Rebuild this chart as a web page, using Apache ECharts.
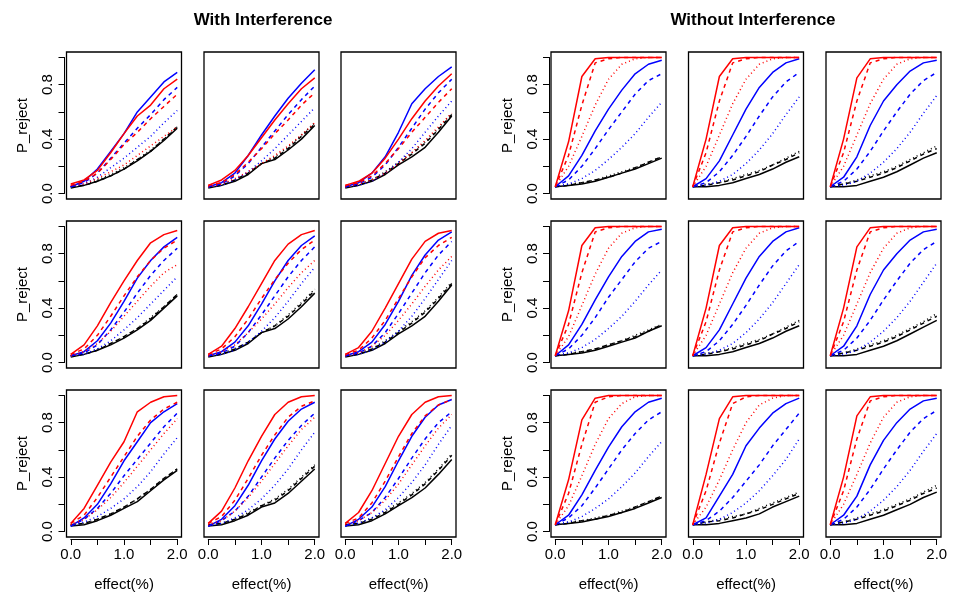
<!DOCTYPE html>
<html><head><meta charset="utf-8">
<script src="https://cdn.jsdelivr.net/npm/echarts@6/dist/echarts.min.js"></script>
<style>html,body{margin:0;padding:0;background:#fff}#c{width:969px;height:603px}</style>
</head><body><div id="c"></div>
<script>
// x values (effect %)
const effect = [0, 0.25, 0.5, 0.75, 1.0, 1.25, 1.5, 1.75, 2.0];
const xTickValues = [0, 0.5, 1.0, 1.5, 2.0];
const xTickLabels = ['0.0', '1.0', '2.0'];
const yTickValues = [0, 0.2, 0.4, 0.6, 0.8, 1.0];
const yTickLabels = ['0.0', '0.4', '0.8'];
const groupTitles = ['With Interference', 'Without Interference'];
// order of series in each panel: red solid, red dashed, red dotted, blue solid, blue dashed, blue dotted, black solid, black dashed, black dotted
const seriesKeys = ['rs','rd','rt','bs','bd','bt','ks','kd','kt'];

// ---- With Interference ----
const with_r1c1 = [
  [0.07,0.10,0.17,0.30,0.44,0.57,0.65,0.77,0.84],
  [0.06,0.09,0.15,0.25,0.36,0.45,0.55,0.64,0.73],
  [0.06,0.07,0.11,0.16,0.21,0.28,0.35,0.42,0.49],
  [0.05,0.09,0.18,0.31,0.44,0.60,0.71,0.82,0.89],
  [0.05,0.08,0.15,0.26,0.37,0.48,0.58,0.69,0.78],
  [0.05,0.07,0.12,0.19,0.26,0.34,0.42,0.52,0.61],
  [0.04,0.06,0.09,0.13,0.18,0.24,0.31,0.39,0.48],
  [0.05,0.06,0.09,0.13,0.18,0.25,0.31,0.40,0.49],
  [0.05,0.06,0.10,0.14,0.19,0.25,0.32,0.40,0.49]];
const with_r1c2 = [
  [0.06,0.10,0.17,0.28,0.41,0.54,0.66,0.77,0.85],
  [0.06,0.08,0.14,0.23,0.33,0.44,0.54,0.65,0.74],
  [0.05,0.07,0.11,0.16,0.22,0.28,0.35,0.43,0.52],
  [0.05,0.08,0.15,0.28,0.43,0.57,0.70,0.81,0.91],
  [0.05,0.07,0.13,0.22,0.34,0.46,0.58,0.69,0.79],
  [0.05,0.06,0.10,0.16,0.24,0.33,0.43,0.53,0.63],
  [0.04,0.06,0.09,0.14,0.22,0.25,0.32,0.40,0.50],
  [0.05,0.06,0.10,0.15,0.22,0.26,0.33,0.42,0.51],
  [0.05,0.07,0.10,0.15,0.22,0.27,0.34,0.43,0.52]];
const with_r1c3 = [
  [0.06,0.09,0.15,0.26,0.40,0.55,0.68,0.79,0.88],
  [0.06,0.08,0.13,0.22,0.33,0.45,0.56,0.67,0.77],
  [0.05,0.07,0.10,0.15,0.22,0.30,0.39,0.49,0.59],
  [0.05,0.08,0.15,0.27,0.45,0.66,0.77,0.86,0.93],
  [0.05,0.07,0.12,0.21,0.34,0.48,0.62,0.74,0.84],
  [0.05,0.06,0.09,0.15,0.23,0.33,0.45,0.57,0.68],
  [0.04,0.06,0.09,0.14,0.21,0.27,0.34,0.45,0.57],
  [0.05,0.06,0.10,0.15,0.22,0.29,0.37,0.47,0.58],
  [0.05,0.07,0.10,0.16,0.23,0.30,0.38,0.48,0.59]];
const with_r2c1 = [
  [0.06,0.13,0.27,0.44,0.60,0.75,0.88,0.94,0.97],
  [0.06,0.10,0.20,0.34,0.49,0.63,0.75,0.84,0.90],
  [0.05,0.08,0.14,0.23,0.34,0.45,0.56,0.66,0.72],
  [0.05,0.08,0.16,0.29,0.45,0.62,0.75,0.85,0.92],
  [0.05,0.07,0.13,0.24,0.37,0.51,0.64,0.75,0.84],
  [0.05,0.06,0.10,0.16,0.24,0.33,0.43,0.53,0.63],
  [0.04,0.06,0.09,0.13,0.18,0.24,0.31,0.40,0.49],
  [0.05,0.06,0.09,0.14,0.19,0.25,0.32,0.41,0.50],
  [0.05,0.06,0.10,0.14,0.19,0.25,0.33,0.41,0.50]];
const with_r2c2 = [
  [0.06,0.12,0.25,0.41,0.58,0.75,0.87,0.94,0.97],
  [0.06,0.10,0.19,0.32,0.47,0.61,0.73,0.83,0.90],
  [0.05,0.08,0.13,0.22,0.32,0.43,0.55,0.66,0.75],
  [0.05,0.08,0.15,0.27,0.43,0.60,0.75,0.86,0.93],
  [0.05,0.07,0.12,0.22,0.35,0.49,0.63,0.75,0.85],
  [0.05,0.06,0.09,0.15,0.23,0.33,0.45,0.58,0.70],
  [0.04,0.06,0.09,0.14,0.22,0.25,0.32,0.41,0.51],
  [0.05,0.06,0.10,0.15,0.22,0.27,0.34,0.43,0.53],
  [0.05,0.07,0.10,0.15,0.22,0.27,0.35,0.44,0.54]];
const with_r2c3 = [
  [0.06,0.11,0.23,0.40,0.58,0.76,0.89,0.95,0.97],
  [0.06,0.09,0.18,0.31,0.47,0.63,0.77,0.86,0.92],
  [0.05,0.07,0.12,0.20,0.31,0.43,0.56,0.68,0.78],
  [0.05,0.08,0.15,0.28,0.45,0.64,0.79,0.90,0.96],
  [0.05,0.07,0.12,0.22,0.36,0.51,0.66,0.79,0.89],
  [0.05,0.06,0.09,0.15,0.23,0.34,0.47,0.61,0.75],
  [0.04,0.06,0.09,0.14,0.21,0.27,0.34,0.45,0.57],
  [0.05,0.06,0.10,0.15,0.22,0.29,0.37,0.47,0.58],
  [0.05,0.07,0.10,0.16,0.23,0.30,0.38,0.48,0.59]];
const with_r3c1 = [
  [0.06,0.17,0.34,0.51,0.66,0.88,0.95,0.99,1.00],
  [0.06,0.12,0.25,0.40,0.55,0.70,0.82,0.90,0.95],
  [0.05,0.09,0.16,0.25,0.36,0.48,0.60,0.72,0.83],
  [0.04,0.10,0.20,0.35,0.52,0.66,0.80,0.88,0.94],
  [0.04,0.09,0.17,0.28,0.41,0.53,0.65,0.77,0.87],
  [0.04,0.07,0.11,0.17,0.24,0.33,0.44,0.57,0.69],
  [0.04,0.05,0.08,0.12,0.17,0.22,0.30,0.38,0.45],
  [0.05,0.06,0.09,0.13,0.18,0.24,0.31,0.39,0.46],
  [0.05,0.06,0.09,0.13,0.18,0.24,0.31,0.39,0.46]];
const with_r3c2 = [
  [0.06,0.15,0.32,0.52,0.70,0.86,0.95,0.99,1.00],
  [0.06,0.11,0.23,0.39,0.56,0.71,0.84,0.92,0.96],
  [0.05,0.08,0.15,0.25,0.37,0.50,0.63,0.75,0.84],
  [0.04,0.09,0.19,0.34,0.52,0.68,0.81,0.90,0.95],
  [0.04,0.08,0.15,0.26,0.40,0.54,0.67,0.78,0.87],
  [0.04,0.06,0.10,0.16,0.24,0.34,0.46,0.60,0.73],
  [0.04,0.05,0.08,0.12,0.18,0.21,0.28,0.37,0.46],
  [0.05,0.06,0.09,0.13,0.19,0.23,0.30,0.39,0.48],
  [0.05,0.06,0.09,0.14,0.19,0.24,0.31,0.40,0.49]];
const with_r3c3 = [
  [0.06,0.14,0.30,0.50,0.70,0.86,0.95,0.99,1.00],
  [0.06,0.10,0.21,0.37,0.55,0.72,0.85,0.93,0.97],
  [0.05,0.08,0.14,0.23,0.35,0.49,0.63,0.76,0.86],
  [0.04,0.09,0.18,0.33,0.52,0.70,0.84,0.93,0.97],
  [0.04,0.08,0.14,0.25,0.39,0.54,0.68,0.80,0.88],
  [0.04,0.06,0.10,0.16,0.25,0.36,0.49,0.64,0.78],
  [0.04,0.05,0.08,0.13,0.19,0.25,0.32,0.42,0.53],
  [0.05,0.06,0.09,0.14,0.20,0.27,0.35,0.45,0.56],
  [0.05,0.06,0.10,0.15,0.21,0.28,0.36,0.46,0.57]];

// ---- Without Interference ----
const without_r1c1 = [
  [0.05,0.38,0.86,0.99,1.00,1.00,1.00,1.00,1.00],
  [0.05,0.28,0.65,0.96,0.99,1.00,1.00,1.00,1.00],
  [0.05,0.20,0.42,0.65,0.84,0.95,0.99,1.00,1.00],
  [0.05,0.13,0.28,0.46,0.62,0.76,0.88,0.95,0.98],
  [0.05,0.10,0.20,0.33,0.47,0.60,0.73,0.83,0.88],
  [0.05,0.07,0.11,0.17,0.25,0.34,0.44,0.56,0.67],
  [0.05,0.06,0.07,0.09,0.12,0.15,0.18,0.22,0.26],
  [0.05,0.06,0.08,0.10,0.12,0.15,0.19,0.23,0.27],
  [0.05,0.07,0.08,0.10,0.13,0.16,0.19,0.23,0.27]];
const without_r1c2 = [
  [0.05,0.40,0.86,0.99,1.00,1.00,1.00,1.00,1.00],
  [0.05,0.30,0.68,0.96,0.99,1.00,1.00,1.00,1.00],
  [0.05,0.20,0.43,0.66,0.84,0.95,0.99,1.00,1.00],
  [0.05,0.11,0.24,0.43,0.62,0.78,0.89,0.96,0.99],
  [0.05,0.08,0.16,0.28,0.42,0.57,0.71,0.82,0.89],
  [0.05,0.06,0.09,0.14,0.22,0.32,0.44,0.58,0.71],
  [0.05,0.05,0.06,0.08,0.11,0.14,0.18,0.23,0.27],
  [0.05,0.06,0.08,0.10,0.13,0.16,0.21,0.25,0.30],
  [0.05,0.07,0.08,0.11,0.14,0.17,0.21,0.26,0.31]];
const without_r1c3 = [
  [0.05,0.40,0.85,0.99,1.00,1.00,1.00,1.00,1.00],
  [0.05,0.30,0.68,0.96,0.99,1.00,1.00,1.00,1.00],
  [0.05,0.20,0.43,0.66,0.84,0.95,0.99,1.00,1.00],
  [0.05,0.12,0.27,0.50,0.68,0.80,0.90,0.96,0.98],
  [0.05,0.09,0.18,0.31,0.46,0.60,0.73,0.83,0.89],
  [0.05,0.06,0.09,0.15,0.23,0.33,0.45,0.59,0.72],
  [0.05,0.05,0.06,0.09,0.12,0.16,0.21,0.26,0.30],
  [0.05,0.07,0.09,0.12,0.15,0.19,0.24,0.29,0.33],
  [0.05,0.07,0.10,0.13,0.16,0.20,0.25,0.30,0.35]];
const without_r2c1 = [
  [0.05,0.38,0.86,0.99,1.00,1.00,1.00,1.00,1.00],
  [0.05,0.28,0.66,0.96,0.99,1.00,1.00,1.00,1.00],
  [0.05,0.19,0.42,0.65,0.84,0.95,0.99,1.00,1.00],
  [0.05,0.13,0.28,0.46,0.63,0.78,0.89,0.96,0.98],
  [0.05,0.10,0.20,0.33,0.48,0.61,0.74,0.84,0.89],
  [0.05,0.07,0.11,0.17,0.25,0.34,0.45,0.57,0.68],
  [0.05,0.06,0.07,0.09,0.12,0.15,0.18,0.23,0.27],
  [0.05,0.06,0.08,0.10,0.13,0.16,0.19,0.23,0.28],
  [0.05,0.07,0.08,0.10,0.13,0.16,0.20,0.24,0.28]];
const without_r2c2 = [
  [0.05,0.40,0.86,0.99,1.00,1.00,1.00,1.00,1.00],
  [0.05,0.30,0.68,0.96,0.99,1.00,1.00,1.00,1.00],
  [0.05,0.20,0.43,0.66,0.84,0.95,0.99,1.00,1.00],
  [0.05,0.11,0.24,0.43,0.62,0.78,0.89,0.96,0.99],
  [0.05,0.08,0.16,0.28,0.42,0.57,0.71,0.82,0.89],
  [0.05,0.06,0.09,0.14,0.22,0.32,0.44,0.58,0.72],
  [0.05,0.05,0.06,0.08,0.11,0.14,0.18,0.23,0.27],
  [0.05,0.06,0.08,0.10,0.13,0.16,0.21,0.25,0.30],
  [0.05,0.07,0.08,0.11,0.14,0.17,0.21,0.26,0.31]];
const without_r2c3 = [
  [0.05,0.40,0.85,0.99,1.00,1.00,1.00,1.00,1.00],
  [0.05,0.30,0.68,0.96,0.99,1.00,1.00,1.00,1.00],
  [0.05,0.20,0.43,0.66,0.84,0.95,0.99,1.00,1.00],
  [0.05,0.12,0.27,0.50,0.68,0.80,0.90,0.96,0.98],
  [0.05,0.09,0.18,0.31,0.46,0.60,0.73,0.83,0.89],
  [0.05,0.06,0.09,0.15,0.23,0.33,0.45,0.59,0.73],
  [0.05,0.05,0.06,0.09,0.12,0.16,0.21,0.26,0.31],
  [0.05,0.07,0.09,0.12,0.15,0.19,0.24,0.29,0.34],
  [0.05,0.07,0.10,0.13,0.16,0.20,0.25,0.30,0.36]];
const without_r3c1 = [
  [0.05,0.38,0.82,0.98,1.00,1.00,1.00,1.00,1.00],
  [0.05,0.28,0.64,0.95,0.99,1.00,1.00,1.00,1.00],
  [0.05,0.19,0.41,0.64,0.83,0.94,0.99,1.00,1.00],
  [0.05,0.12,0.27,0.45,0.62,0.77,0.88,0.95,0.98],
  [0.05,0.10,0.19,0.32,0.46,0.60,0.72,0.82,0.88],
  [0.05,0.07,0.11,0.17,0.24,0.33,0.43,0.55,0.66],
  [0.05,0.06,0.07,0.09,0.11,0.14,0.17,0.21,0.25],
  [0.05,0.06,0.08,0.09,0.12,0.14,0.18,0.22,0.26],
  [0.05,0.07,0.08,0.10,0.12,0.15,0.18,0.22,0.26]];
const without_r3c2 = [
  [0.05,0.42,0.83,0.99,1.00,1.00,1.00,1.00,1.00],
  [0.05,0.30,0.65,0.94,0.99,1.00,1.00,1.00,1.00],
  [0.05,0.18,0.38,0.60,0.80,0.93,0.98,1.00,1.00],
  [0.05,0.10,0.26,0.42,0.63,0.76,0.87,0.94,0.98],
  [0.05,0.08,0.15,0.25,0.37,0.49,0.63,0.75,0.87],
  [0.05,0.06,0.09,0.14,0.21,0.30,0.41,0.53,0.68],
  [0.05,0.05,0.06,0.08,0.10,0.13,0.18,0.22,0.26],
  [0.05,0.07,0.08,0.10,0.13,0.16,0.20,0.24,0.28],
  [0.05,0.07,0.09,0.11,0.13,0.17,0.21,0.25,0.29]];
const without_r3c3 = [
  [0.05,0.40,0.85,0.99,1.00,1.00,1.00,1.00,1.00],
  [0.05,0.30,0.68,0.96,0.99,1.00,1.00,1.00,1.00],
  [0.05,0.20,0.42,0.65,0.84,0.95,0.99,1.00,1.00],
  [0.05,0.12,0.26,0.49,0.67,0.80,0.90,0.96,0.98],
  [0.05,0.09,0.18,0.31,0.46,0.60,0.73,0.83,0.89],
  [0.05,0.06,0.09,0.15,0.23,0.33,0.45,0.59,0.72],
  [0.05,0.05,0.06,0.09,0.12,0.16,0.20,0.25,0.29],
  [0.05,0.07,0.09,0.12,0.15,0.19,0.23,0.28,0.32],
  [0.05,0.07,0.10,0.13,0.16,0.20,0.24,0.29,0.34]];

const panelRows = [
  [with_r1c1, with_r1c2, with_r1c3, without_r1c1, without_r1c2, without_r1c3],
  [with_r2c1, with_r2c2, with_r2c3, without_r2c1, without_r2c2, without_r2c3],
  [with_r3c1, with_r3c2, with_r3c3, without_r3c1, without_r3c2, without_r3c3]];

// ---- layout / style (not data) ----
const FONT = 'Liberation Sans, Arial, Helvetica, sans-serif';
const colTops = [52, 221, 390];
const colLefts = [66.5, 204, 341, 551, 688.5, 826];
const boxW = 115, boxH = 147;
const padX = boxW * 0.08 / 2.16, padY = boxH * 0.04 / 1.08;
const styles = [
  {c:'#ff0000', t:'solid'}, {c:'#ff0000', t:[4,4]}, {c:'#ff0000', t:[1,3]},
  {c:'#0000ff', t:'solid'}, {c:'#0000ff', t:[4,4]}, {c:'#0000ff', t:[1,3]},
  {c:'#000000', t:'solid'}, {c:'#000000', t:[4,4]}, {c:'#000000', t:[1,3]}];

const grid = [], xAxis = [], yAxis = [], series = [];
panelRows.forEach((row, r) => {
  row.forEach((panel, c) => {
    const L = colLefts[c], T = colTops[r];
    const bi = grid.length;
    grid.push({left: L, top: T, width: boxW, height: boxH, show: true, borderColor: '#000', borderWidth: 1.3, backgroundColor: 'transparent'});
    xAxis.push({gridIndex: bi, type: 'value', min: 0, max: 1, show: false});
    yAxis.push({gridIndex: bi, type: 'value', min: 0, max: 1, show: false});
    const ii = grid.length;
    grid.push({left: L + padX, top: T + padY, width: boxW - 2*padX, height: boxH - 2*padY});
    const showX = r === 2, showY = (c === 0 || c === 3);
    xAxis.push({gridIndex: ii, type: 'value', min: 0, max: 2, show: showX, position: 'bottom', offset: padY + 2,
      axisLine: {show: true, onZero: false, lineStyle: {color: '#000', width: 1}},
      axisTick: {show: true, length: 6, customValues: xTickValues, lineStyle: {color: '#000', width: 1}},
      axisLabel: {show: true, customValues: xTickLabels.map(Number), formatter: v => v.toFixed(1), margin: 8, color: '#000', fontSize: 15, fontFamily: FONT},
      splitLine: {show: false},
      name: 'effect(%)', nameLocation: 'middle', nameGap: 38, nameTextStyle: {color: '#000', fontSize: 15, fontFamily: FONT}});
    yAxis.push({gridIndex: ii, type: 'value', min: 0, max: 1, show: showY, position: 'left', offset: padX + 2,
      axisLine: {show: true, onZero: false, lineStyle: {color: '#000', width: 1}},
      axisTick: {show: true, length: 6, customValues: yTickValues, lineStyle: {color: '#000', width: 1}},
      axisLabel: {show: true, customValues: yTickLabels.map(Number), formatter: v => v.toFixed(1), rotate: 90, margin: 9, color: '#000', fontSize: 15, fontFamily: FONT},
      splitLine: {show: false},
      name: 'P_reject', nameLocation: 'middle', nameGap: 34, nameRotate: 90, nameTextStyle: {color: '#000', fontSize: 15, fontFamily: FONT}});
    panel.forEach((vals, k) => {
      series.push({type: 'line', name: seriesKeys[k], xAxisIndex: ii, yAxisIndex: ii,
        data: effect.map((x, i) => [x, vals[i]]), symbol: 'none', clip: false, silent: true,
        lineStyle: {color: styles[k].c, width: 1.5, type: styles[k].t}, z: 10 - Math.floor(k/3)});
    });
  });
});

const chart = echarts.init(document.getElementById('c'), null, {renderer: 'canvas'});
chart.setOption({
  animation: false,
  backgroundColor: '#fff',
  title: [
    {text: groupTitles[0], left: 258, top: 7, textAlign: 'center', textStyle: {fontSize: 17, fontWeight: 'bold', color: '#000', fontFamily: FONT}},
    {text: groupTitles[1], left: 748, top: 7, textAlign: 'center', textStyle: {fontSize: 17, fontWeight: 'bold', color: '#000', fontFamily: FONT}}],
  grid, xAxis, yAxis, series
});
</script></body></html>
